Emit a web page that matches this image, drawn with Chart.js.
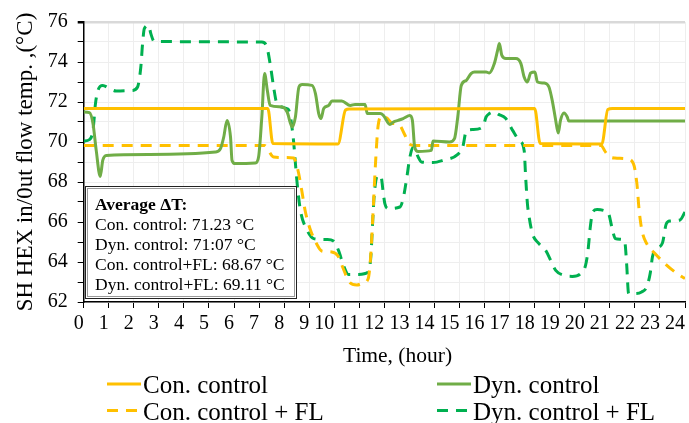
<!DOCTYPE html>
<html>
<head>
<meta charset="utf-8">
<script src="https://cdn.jsdelivr.net/npm/chart.js@4.4.1/dist/chart.umd.min.js"></script>
<style>
  html, body { margin: 0; padding: 0; background: #fff; }
  #wrap { width: 689px; height: 423px; position: relative; }
</style>
</head>
<body>
<div id="wrap"><canvas id="myChart" width="689" height="423"></canvas></div>
<script>
// values (hour, °C)
let conHours = [0, 7.35, 7.55, 10.15, 10.45, 10.6, 18.0, 18.22, 20.68, 20.92, 21.1, 24];
let conTemp  = [71.67, 71.67, 69.92, 69.9, 71.6, 71.65, 71.67, 69.92, 69.9, 71.62, 71.67, 71.67];

let dynHours = [0, 0.23, 0.37, 0.5, 0.66, 0.76, 0.9, 2.62, 5.26, 5.46, 5.59, 5.72, 5.86, 5.92, 6.05, 6.85, 6.98, 7.11, 7.22, 7.33, 7.44, 7.91,
  8.12, 8.32, 8.45, 8.59, 8.72, 9.11, 9.25, 9.38, 9.47, 9.58, 9.78, 9.91, 10.3, 10.64, 10.83, 11.23, 11.32, 11.83, 11.96, 12.22, 12.36,
  12.55, 12.75, 13.02, 13.12, 13.21, 13.35, 13.88, 13.94, 14.6, 14.8, 14.93, 15.07, 15.27, 15.46, 15.6, 16.06, 16.19, 16.39, 16.52,
  16.59, 16.69, 16.85, 17.25, 17.45, 17.58, 17.71, 17.84, 18.01, 18.11, 18.37, 18.57, 18.7, 18.84, 18.94, 19.03, 19.17, 19.3, 19.36, 24];
let dynTemp = [71.5, 71.47, 70.92, 69.58, 68.28, 69.08, 69.33, 69.38, 69.5, 69.67, 70.25, 71.08, 70.25, 69.08, 68.92, 68.95, 69.25, 71.25, 73.42, 72.58, 71.83, 71.75,
  71.5, 70.75, 71.25, 72.75, 72.87, 72.83, 72.42, 71.42, 71.17, 71.67, 71.83, 72.05, 72.05, 71.83, 71.88, 71.88, 71.42, 71.42, 71.33, 70.88, 71.0,
  71.08, 71.17, 71.32, 71.08, 69.75, 69.53, 69.58, 70.05, 70.0, 70.17, 71.25, 72.83, 73.08, 73.42, 73.5, 73.5, 73.45, 73.92, 74.58,
  74.92, 74.33, 74.17, 74.17, 73.92, 73.25, 73.0, 73.45, 73.5, 73.0, 72.95, 72.75, 72.08, 71.08, 70.45, 71.08, 71.45, 71.25, 71.05, 71.05];

let conFlHours = [0, 7.21, 7.58, 8.0, 8.38, 8.55, 8.7, 8.85, 9.05, 9.3, 9.5, 9.9, 10.15, 10.35, 10.6, 10.9, 11.15, 11.35, 11.45, 11.55,
  11.65, 11.75, 11.9, 12.1, 12.3, 12.6, 12.8, 13.0, 13.2, 20.65, 20.8, 20.95, 21.2, 21.7, 21.94, 22.08, 22.17, 22.28, 22.47, 22.8, 23.2, 23.6, 24];
let conFlTemp = [69.83, 69.83, 69.25, 69.22, 69.2, 68.6, 67.6, 66.5, 65.6, 64.9, 64.55, 64.5, 64.3, 63.7, 63.0, 62.85, 62.95, 63.15, 64.2, 66.5,
  69.0, 70.8, 71.3, 71.2, 70.95, 70.85, 70.4, 69.9, 69.83, 69.83, 69.55, 69.3, 69.2, 69.15, 68.92, 67.92, 66.58, 65.58, 64.92, 64.42, 63.92, 63.5, 63.17];

let dynFlHours = [0, 0.23, 0.37, 0.47, 0.57, 0.76, 1.03, 1.29, 1.95, 2.15, 2.28, 2.35, 2.42, 2.59, 2.68, 2.81, 7.11, 7.31, 7.44, 7.58, 7.71, 7.91,
  8.1, 8.19, 8.36, 8.43, 8.52, 8.65, 8.92, 9.18, 9.71, 9.97, 10.17, 10.37, 10.57, 10.97, 11.36, 11.46, 11.53, 11.6, 11.73, 11.87, 11.96,
  12.02, 12.16, 12.62, 12.75, 12.88, 13.02, 13.15, 13.35, 13.48, 13.94, 14.34, 14.93, 15.13, 15.27, 15.53, 15.93, 16.06, 16.19, 16.39,
  16.56, 16.85, 17.12, 17.38, 17.58, 17.64, 17.71, 17.78, 17.91, 18.17, 18.44, 18.64, 18.84, 19.17, 19.5, 19.83, 20.03, 20.13, 20.22,
  20.32, 20.49, 20.75, 20.95, 21.08, 21.22, 21.55, 21.61, 21.67, 21.75, 22.01, 22.27, 22.47, 22.61, 22.7, 22.8, 23.1, 23.25, 23.4, 23.8, 24];
let dynFlTemp = [70.05, 70.12, 70.58, 71.92, 72.58, 72.83, 72.67, 72.55, 72.58, 72.75, 73.75, 74.92, 75.67, 75.83, 75.42, 75.03, 75.0, 74.75, 73.92, 72.75, 71.92, 71.75,
  71.67, 71.58, 70.25, 69.25, 67.92, 66.58, 65.58, 65.17, 65.12, 65.05, 64.58, 63.83, 63.38, 63.38, 63.5, 64.25, 65.92, 67.42, 68.33, 68.25, 67.42,
  66.92, 66.67, 66.75, 67.17, 68.08, 69.25, 69.75, 69.25, 69.0, 68.97, 69.08, 69.38, 69.75, 70.55, 70.62, 70.75, 71.25, 71.42, 71.5,
  71.38, 71.17, 70.58, 70.08, 69.58, 68.25, 66.92, 66.25, 65.42, 64.92, 64.58, 64.08, 63.58, 63.33, 63.28, 63.42, 63.83, 64.58, 65.75,
  66.5, 66.62, 66.58, 66.42, 65.75, 65.17, 65.12, 64.92, 63.92, 62.42, 62.42, 62.5, 62.75, 63.42, 64.25, 64.6, 64.95, 65.9, 66.05, 66.1, 66.5];

let labels = ['Con. control', 'Dyn. control', 'Con. control + FL', 'Dyn. control + FL'];
let colors = ['#FFC000', '#70AD47', '#FFC000', '#00B050'];
let dashes = [[], [], [11, 8], [11, 8]];

let boxTitle = 'Average \u0394T:';
let boxLines = ['Con. control: 71.23 \u00B0C', 'Dyn. control: 71:07 \u00B0C', 'Con. control+FL: 68.67 \u00B0C', 'Dyn. control+FL: 69.11 \u00B0C'];

let yTitle = 'SH HEX in/0ut flow temp. ,(\u00B0C)';
let xTitle = 'Time, (hour)';

const serif = "'Liberation Serif', 'Times New Roman', serif";

function pts(xs, ys) {
    return xs.map((x, i) => ({ x: x, y: ys[i] }));
}

let series = [pts(conHours, conTemp), pts(dynHours, dynTemp), pts(conFlHours, conFlTemp), pts(dynFlHours, dynFlTemp)];

// text box, x title and legend drawn on the canvas
const extras = {
    id: 'extras',
    afterDraw(chart) {
        const c = chart.ctx;
        c.save();

        // average box
        c.fillStyle = '#fff';
        c.fillRect(86, 187, 211, 112);
        c.strokeStyle = '#222';
        c.lineWidth = 1;
        c.strokeRect(85.5, 186.5, 211, 112);
        c.strokeStyle = '#9a9a9a';
        c.strokeRect(87.5, 188.5, 207, 108);

        c.fillStyle = '#000';
        c.textAlign = 'left';
        c.textBaseline = 'alphabetic';
        c.font = 'bold 17.5px ' + serif;
        c.fillText(boxTitle, 95, 210);
        c.font = '17.5px ' + serif;
        boxLines.forEach((t, i) => c.fillText(t, 95, 230 + i * 20));

        // x title
        c.font = '21.5px ' + serif;
        c.fillText(xTitle, 343, 362);

        // legend
        const cols = [107, 437];
        const rows = [393, 419.5];
        c.font = '25px ' + serif;
        chart.data.datasets.forEach((ds, i) => {
            const x = cols[i % 2];
            const y = rows[Math.floor(i / 2)];
            c.strokeStyle = ds.borderColor;
            c.lineWidth = 3;
            c.setLineDash(ds.borderDash);
            c.beginPath();
            c.moveTo(x, y - 9);
            c.lineTo(x + 34, y - 9);
            c.stroke();
            c.setLineDash([]);
            c.fillStyle = '#000';
            c.fillText(ds.label, x + 36, y);
        });
        c.restore();
    }
};

let ctx = document.getElementById('myChart').getContext('2d');
let myChart = new Chart(ctx, {
    type: 'line',
    data: {
        datasets: series.map((d, i) => ({
            label: labels[i],
            data: d,
            borderColor: colors[i],
            backgroundColor: colors[i],
            borderDash: dashes[i],
            borderWidth: 3,
            pointRadius: 0,
            cubicInterpolationMode: 'monotone',
            fill: false
        }))
    },
    options: {
        responsive: false,
        animation: false,
        layout: { padding: { top: 20, right: 1, left: 0, bottom: 0 } },
        plugins: {
            legend: { display: false },
            tooltip: { enabled: false }
        },
        scales: {
            x: {
                type: 'linear',
                min: 0,
                max: 24,
                grid: { color: '#eeeeee', lineWidth: 1, tickColor: '#000', tickLength: 6 },
                border: { color: '#000', width: 1.5 },
                ticks: {
                    stepSize: 1,
                    autoSkip: false,
                    maxRotation: 0,
                    align: 'end',
                    padding: 4,
                    color: '#000',
                    font: { family: serif, size: 20 }
                },
                afterFit(scale) { scale.height = 121; }
            },
            y: {
                min: 62,
                max: 76,
                grid: {
                    color: c => (c.tick && c.tick.value === 76) ? '#d9d9d9' : '#eeeeee',
                    lineWidth: c => (c.tick && c.tick.value === 76) ? 2.5 : 1,
                    tickColor: '#000',
                    tickLength: 6
                },
                border: { color: '#000', width: 1.5 },
                ticks: {
                    stepSize: 1,
                    autoSkip: false,
                    padding: 10,
                    color: '#000',
                    font: { family: serif, size: 20 },
                    callback: v => (v % 2 === 0 ? v : '')
                },
                title: {
                    display: true,
                    text: yTitle,
                    color: '#000',
                    font: { family: serif, size: 23 },
                    padding: { top: 12, bottom: 0 }
                },
                afterFit(scale) { scale.width = 83.7; }
            }
        }
    },
    plugins: [extras]
});
</script>
</body>
</html>
